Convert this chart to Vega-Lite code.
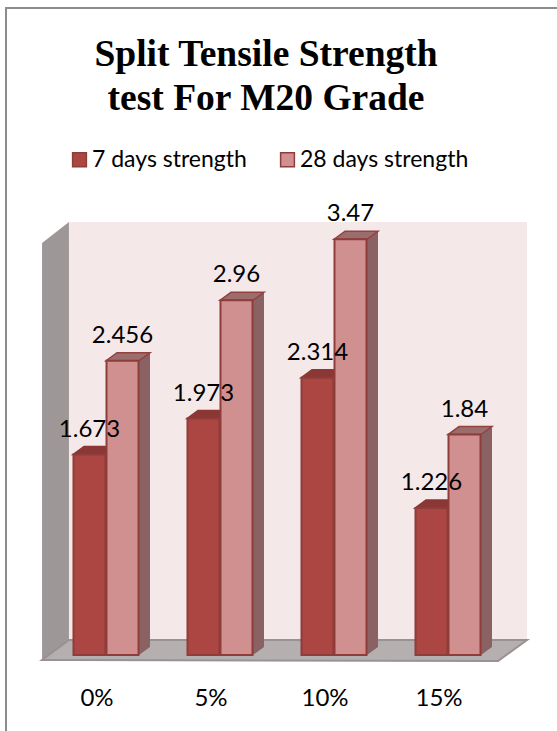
{"$schema":"https://vega.github.io/schema/vega-lite/v6.json","autosize":{"type":"none"},"width":560,"height":732,"padding":{"left":6,"top":8,"right":-9,"bottom":-9},"background":"white","config":{"view":{"stroke":"#8c8c8c","strokeWidth":2},"font":"Lato"},"title":{"text":["Split Tensile Strength","test For M20 Grade"],"font":"Liberation Serif","fontWeight":"bold","fontSize":37.5,"lineHeight":44,"color":"#000000","anchor":"middle","frame":"group","baseline":"top","dx":-20,"offset":-109},"datasets":{"bars":[{"mix":"0%","series":"7 days strength","strength":1.673},{"mix":"5%","series":"7 days strength","strength":1.973},{"mix":"10%","series":"7 days strength","strength":2.314},{"mix":"15%","series":"7 days strength","strength":1.226},{"mix":"0%","series":"28 days strength","strength":2.456},{"mix":"5%","series":"28 days strength","strength":2.96},{"mix":"10%","series":"28 days strength","strength":3.47},{"mix":"15%","series":"28 days strength","strength":1.84}],"backWall":[{"u":0.175,"top":3.614,"bottom":0.125},{"u":4.193,"top":3.614,"bottom":0.125}],"sideWall":[{"u":-0.061,"top":3.439,"bottom":-0.042},{"u":0.175,"top":3.614,"bottom":0.125}],"floor":[{"u":-0.061,"top":-0.042,"bottom":-0.042},{"u":0.175,"top":0.125,"bottom":-0.042},{"u":3.939,"top":0.125,"bottom":-0.05},{"u":4.193,"top":0.125,"bottom":0.125}]},"layer":[{"data":{"name":"backWall"},"mark":{"type":"area","color":"#f5e8e9"},"encoding":{"x":{"field":"u","type":"quantitative","axis":null,"scale":{"domain":[0,4],"range":[43,499],"nice":false,"zero":false}},"y":{"field":"top","type":"quantitative","axis":null,"stack":null,"scale":{"domain":[0,3.614],"range":[647,214],"nice":false,"zero":false}},"y2":{"field":"bottom"}}},{"data":{"name":"sideWall"},"mark":{"type":"area","color":"#9e9797"},"encoding":{"x":{"field":"u","type":"quantitative","axis":null,"scale":{"domain":[0,4],"range":[43,499],"nice":false,"zero":false}},"y":{"field":"top","type":"quantitative","stack":null},"y2":{"field":"bottom"}}},{"data":{"name":"floor"},"mark":{"type":"area","color":"#b6afaf","stroke":"#989292","strokeWidth":2},"encoding":{"x":{"field":"u","type":"quantitative","axis":null,"scale":{"domain":[0,4],"range":[43,499],"nice":false,"zero":false}},"y":{"field":"top","type":"quantitative","stack":null},"y2":{"field":"bottom"}}},{"data":{"name":"bars"},"mark":{"type":"bar","width":11,"yOffset":-8,"y2Offset":-8,"color":"#8b6263"},"encoding":{"x":{"field":"mix","type":"nominal","sort":["0%","5%","10%","15%"],"axis":null,"scale":{"domain":["0%","5%","10%","15%"],"range":[65,521],"paddingInner":0.421,"paddingOuter":0.2105}},"xOffset":{"field":"series","type":"nominal","sort":["7 days strength","28 days strength"],"scale":{"domain":["7 days strength","28 days strength"],"paddingInner":0,"paddingOuter":0}},"y":{"field":"strength","type":"quantitative","stack":null},"y2":{"datum":0}}},{"data":{"name":"bars"},"layer":[{"mark":{"type":"point","filled":true,"size":4,"opacity":1,"shape":"M16.5,0 L27.5,-8 L16.5,-8 Z","color":"#8b6263"},"encoding":{"y":{"datum":0,"type":"quantitative"}}},{"transform":[{"filter":"datum.series === '7 days strength'"}],"mark":{"type":"point","filled":true,"size":4,"opacity":1,"shape":"M-16.5,0 L-5.5,-8 L27.5,-8 L16.5,0 Z","fill":"#8a3735","stroke":"#8a3735","strokeWidth":1.5},"encoding":{"y":{"field":"strength","type":"quantitative","stack":null}}},{"transform":[{"filter":"datum.series === '28 days strength'"}],"mark":{"type":"point","filled":true,"size":4,"opacity":1,"shape":"M-16.5,0 L-5.5,-8 L27.5,-8 L16.5,0 Z","fill":"#9b6d6d","stroke":"#934240","strokeWidth":1.5},"encoding":{"y":{"field":"strength","type":"quantitative","stack":null}}},{"mark":{"type":"bar","width":32,"stroke":"#8f3d3b","strokeWidth":2},"encoding":{"y":{"field":"strength","type":"quantitative","stack":null},"y2":{"datum":0},"color":{"field":"series","type":"nominal","sort":["7 days strength","28 days strength"],"scale":{"domain":["7 days strength","28 days strength"],"range":["#ab4643","#d19090"]},"legend":{"title":null,"orient":"none","legendX":62,"legendY":140,"direction":"horizontal","symbolType":"square","symbolSize":190,"symbolStrokeColor":"#8f3d3b","symbolStrokeWidth":1.5,"symbolOpacity":1,"labelFont":"Lato","labelFontSize":23,"labelColor":"#000000","labelLimit":300,"labelOffset":1,"columnPadding":29}}}},{"mark":{"type":"text","font":"Lato","fontSize":24,"color":"#000000","dy":-25,"baseline":"middle"},"encoding":{"y":{"field":"strength","type":"quantitative","stack":null},"text":{"field":"strength","type":"quantitative","format":".4~f"}}}],"encoding":{"x":{"field":"mix","type":"nominal","sort":["0%","5%","10%","15%"],"title":null,"scale":{"domain":["0%","5%","10%","15%"],"range":[43,499],"paddingInner":0.421,"paddingOuter":0.2105},"axis":{"orient":"bottom","offset":-54,"domain":false,"ticks":false,"grid":false,"labelAngle":0,"labelFont":"Lato","labelFontSize":24,"labelColor":"#000000","labelOffset":-9,"labelPadding":0}},"xOffset":{"field":"series","type":"nominal","sort":["7 days strength","28 days strength"],"scale":{"domain":["7 days strength","28 days strength"],"paddingInner":0,"paddingOuter":0}}}}],"resolve":{"scale":{"x":"independent"}}}
